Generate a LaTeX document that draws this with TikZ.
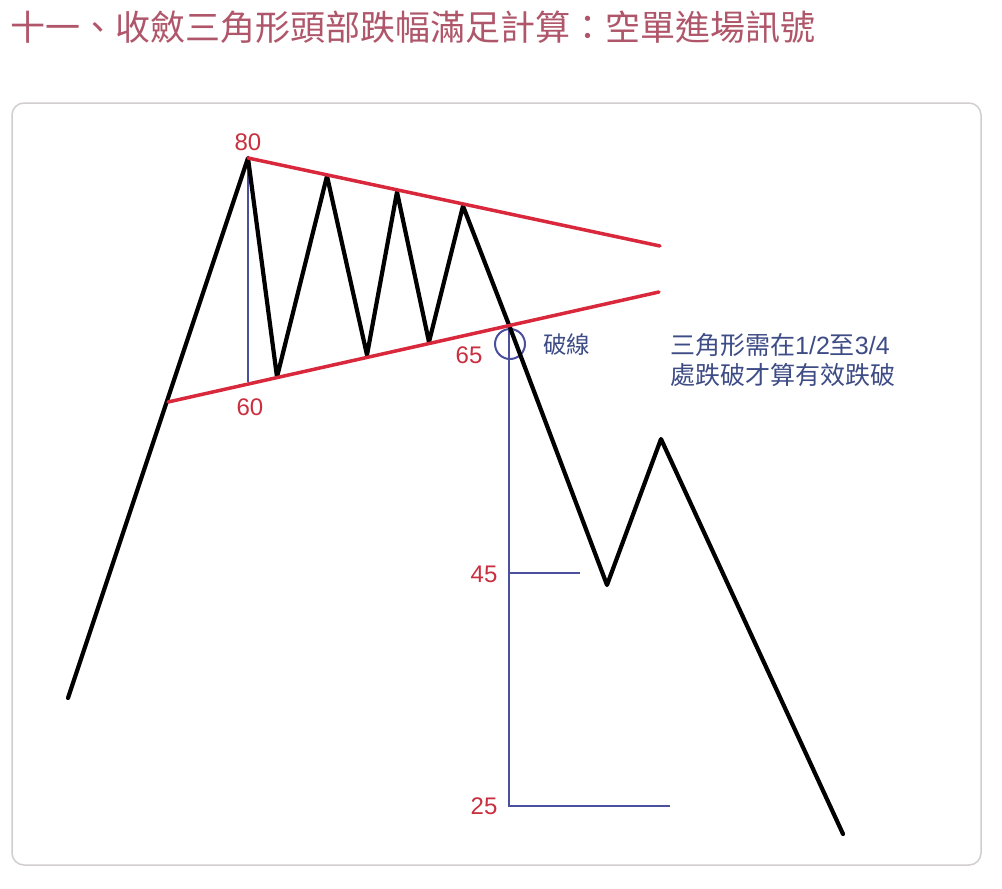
\documentclass[tikz,border=0pt]{standalone}
\usepackage{fontspec}
\setmainfont{Liberation Sans}
\newfontfamily\cjk{Noto Sans CJK TC}
\definecolor{titlecol}{HTML}{B0566A}
\definecolor{redline}{HTML}{D9283C}
\definecolor{labred}{HTML}{C9303F}
\definecolor{blueline}{HTML}{4A509E}
\definecolor{bluetext}{HTML}{3E4C86}
\definecolor{boxcol}{HTML}{D2CDCE}
\begin{document}
\begin{tikzpicture}[x=1pt,y=-1pt,
  price/.style={line width=4.2pt,black,line join=round,line cap=round},
  trend/.style={line width=3.5pt,redline,line cap=round},
  measure/.style={line width=2pt,blueline},
  numlab/.style={text=labred,font=\fontsize{24}{24}\selectfont,inner sep=0pt},
  cjklab/.style={text=bluetext,inner sep=0pt}]
\useasboundingbox (0,0) rectangle (1002,889);
\fill[white] (0,0) rectangle (1002,889);
\draw[boxcol,line width=1.5pt,rounded corners=12pt] (12,103) rectangle (981,865);
\node[anchor=west,text=titlecol,inner sep=0pt,font=\cjk\fontsize{35}{35}\selectfont] (title) at (10,27) {十一、收斂三角形頭部跌幅滿足計算：空單進場訊號};
% price path points
\coordinate (s) at (68,698);
\coordinate (p1) at (248,158);
\coordinate (t1) at (277,377);
\coordinate (p2) at (327,176);
\coordinate (t2) at (367,355);
\coordinate (p3) at (397,192);
\coordinate (t3) at (429,342);
\coordinate (p4) at (463,206);
\coordinate (b) at (509,325);
\coordinate (t5) at (607,585);
\coordinate (p5) at (661,439);
\coordinate (e) at (843,834);
% trend line ends
\coordinate (ua) at (248,158);
\coordinate (ub) at (660,246);
\coordinate (la) at (168,402);
\coordinate (lb) at (659,292);
% measure points
\coordinate (m1a) at (248,160);
\coordinate (m1b) at (248,382);
\coordinate (m2a) at (509,330);
\coordinate (m2b) at (509,806);
\coordinate (m2c) at (670,806);
\coordinate (m3a) at (509,573);
\coordinate (m3b) at (580,573);
% blue measures
\draw[measure] (m1a) -- (m1b);
\draw[measure] (m2a) -- (m2b) -- (m2c);
\draw[measure] (m3a) -- (m3b);
\draw[measure] (510,344) circle[radius=15];
% price
\draw[price] (s) -- (p1) -- (t1) -- (p2) -- (t2) -- (p3) -- (t3) -- (p4) -- (b) -- (t5) -- (p5) -- (e);
% trend lines
\draw[trend] (ua) -- (ub);
\draw[trend] (la) -- (lb);
% labels
\node[numlab] (l80) at (248,142) {80};
\node[numlab] (l60) at (250,407) {60};
\node[numlab] (l65) at (469,355) {65};
\node[numlab] (l45) at (484,574) {45};
\node[numlab] (l25) at (484,806) {25};
\node[cjklab,anchor=west,font=\cjk\fontsize{23.5}{24}\selectfont] (brk) at (543,345) {破線};
\node[cjklab,anchor=north west,align=left,font=\cjk\fontsize{25}{30}\selectfont] (note) at (670,333) {三角形需在{\rmfamily 1/2}至{\rmfamily 3/4}\\處跌破才算有效跌破};
\end{tikzpicture}
\end{document}
